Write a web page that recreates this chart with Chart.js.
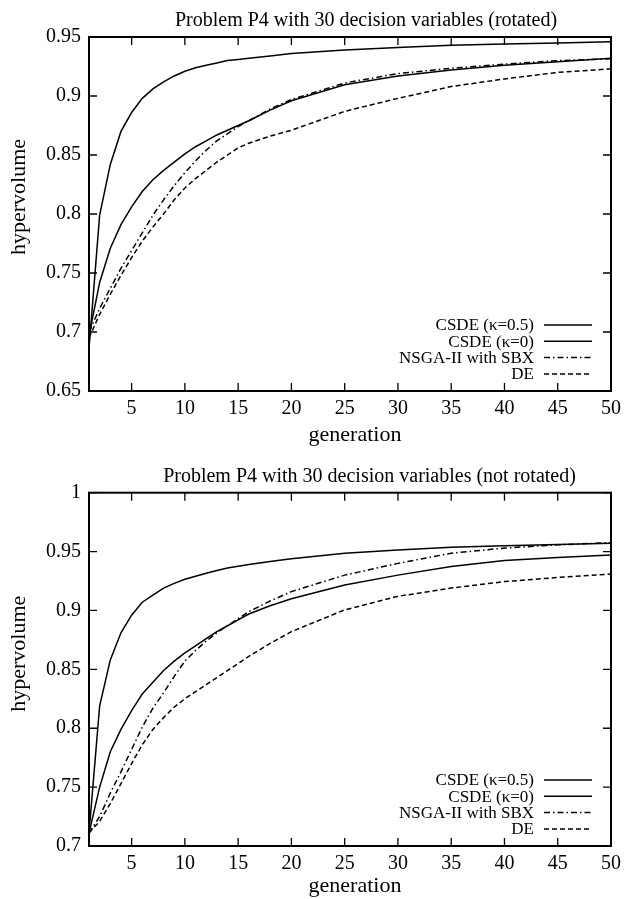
<!DOCTYPE html>
<html>
<head>
<meta charset="utf-8">
<script src="https://cdn.jsdelivr.net/npm/chart.js@4.4.0/dist/chart.umd.min.js"></script>
<style>
body { margin: 0; background: #fff; }
.caixa { position: absolute; left: 0; width: 627px; }
</style>
</head>
<body>
<div class="caixa" style="top:0;height:450px"><canvas id="graficoRotated" width="627" height="450"></canvas></div>
<div class="caixa" style="top:450px;height:449px"><canvas id="graficoNotRotated" width="627" height="449"></canvas></div>
<script>
// geracoes onde os valores foram lidos
var geracoes = [1, 2, 3, 4, 5, 6, 7, 8, 9, 10, 11, 12, 13, 14, 15, 16, 18, 20, 25, 30, 35, 40, 45, 50]
var ticksX = [5, 10, 15, 20, 25, 30, 35, 40, 45, 50]
var legendas = ['CSDE (κ=0.5)', 'CSDE (κ=0)', 'NSGA-II with SBX', 'DE']

// Problema P4 rotacionado
var ticksYRotated = [0.65, 0.7, 0.75, 0.8, 0.85, 0.9, 0.95]
var rotK05 = [0.686, 0.799, 0.842, 0.870, 0.886, 0.898, 0.906, 0.912, 0.917, 0.921, 0.924, 0.926, 0.928, 0.930, 0.931, 0.932, 0.934, 0.936, 0.939, 0.941, 0.943, 0.944, 0.945, 0.946]
var rotK0 = [0.697, 0.742, 0.771, 0.791, 0.806, 0.819, 0.829, 0.837, 0.844, 0.851, 0.857, 0.862, 0.867, 0.871, 0.875, 0.879, 0.888, 0.896, 0.9095, 0.917, 0.922, 0.926, 0.929, 0.932]
var rotNsga = [0.700, 0.720, 0.737, 0.754, 0.769, 0.784, 0.799, 0.812, 0.824, 0.835, 0.845, 0.854, 0.862, 0.868, 0.874, 0.879, 0.889, 0.897, 0.911, 0.919, 0.9235, 0.927, 0.930, 0.9315]
var rotDE = [0.695, 0.715, 0.732, 0.748, 0.763, 0.777, 0.789, 0.800, 0.812, 0.822, 0.830, 0.837, 0.844, 0.850, 0.856, 0.860, 0.866, 0.871, 0.887, 0.898, 0.908, 0.9145, 0.920, 0.923]

// Problema P4 nao rotacionado
var ticksYNotRotated = [0.7, 0.75, 0.8, 0.85, 0.9, 0.95, 1]
var naoK05 = [0.711, 0.819, 0.858, 0.881, 0.896, 0.907, 0.913, 0.919, 0.923, 0.9265, 0.929, 0.9316, 0.934, 0.936, 0.9375, 0.939, 0.9415, 0.944, 0.9486, 0.9514, 0.9537, 0.955, 0.956, 0.957]
var naoK0 = [0.711, 0.750, 0.780, 0.799, 0.815, 0.829, 0.839, 0.849, 0.857, 0.864, 0.870, 0.876, 0.882, 0.887, 0.892, 0.897, 0.904, 0.910, 0.9217, 0.930, 0.9373, 0.9424, 0.945, 0.947]
var naoNsga = [0.711, 0.725, 0.745, 0.763, 0.782, 0.801, 0.817, 0.830, 0.844, 0.857, 0.866, 0.874, 0.881, 0.887, 0.893, 0.899, 0.908, 0.916, 0.930, 0.940, 0.9486, 0.953, 0.9557, 0.9576]
var naoDE = [0.711, 0.721, 0.736, 0.753, 0.770, 0.786, 0.799, 0.809, 0.818, 0.825, 0.831, 0.837, 0.843, 0.849, 0.855, 0.861, 0.872, 0.882, 0.9005, 0.912, 0.919, 0.9245, 0.928, 0.931]

var fonte = '"Liberation Serif", "Times New Roman", serif'

// moldura estilo gnuplot: caixa, ticks para dentro, titulos e legenda
var moldura = {
    id: 'moldura',
    afterDatasetsDraw: function (chart, args, opts) {
        var ctx = chart.ctx
        var a = chart.chartArea
        var sx = chart.scales.x
        var sy = chart.scales.y
        ctx.save()
        ctx.strokeStyle = '#000'
        ctx.fillStyle = '#000'
        ctx.lineWidth = 1.3
        ctx.beginPath()
        sx.ticks.forEach(function (t) {
            var px = sx.getPixelForValue(t.value)
            ctx.moveTo(px, a.bottom); ctx.lineTo(px, a.bottom - 8)
            ctx.moveTo(px, a.top); ctx.lineTo(px, a.top + 8)
        })
        sy.ticks.forEach(function (t) {
            var py = sy.getPixelForValue(t.value)
            ctx.moveTo(a.left, py); ctx.lineTo(a.left + 8, py)
            ctx.moveTo(a.right, py); ctx.lineTo(a.right - 8, py)
        })
        ctx.stroke()
        ctx.lineWidth = 2
        ctx.strokeRect(a.left, a.top, a.right - a.left, a.bottom - a.top)

        ctx.textAlign = 'center'
        ctx.textBaseline = 'alphabetic'
        ctx.font = '20px ' + fonte
        ctx.fillText(opts.titulo, opts.tituloX, opts.tituloY)
        ctx.font = '22px ' + fonte
        ctx.fillText('generation', opts.xTituloX, opts.xTituloY)
        ctx.save()
        ctx.translate(opts.yTituloX, opts.yTituloY)
        ctx.rotate(-Math.PI / 2)
        ctx.fillText('hypervolume', 0, 0)
        ctx.restore()

        // legenda
        ctx.font = '17px ' + fonte
        ctx.textAlign = 'right'
        ctx.textBaseline = 'middle'
        chart.data.datasets.forEach(function (ds, i) {
            var y = a.bottom - 66 + i * 16.3
            ctx.fillText(ds.label, a.right - 77, y + 1)
            ctx.beginPath()
            ctx.lineWidth = ds.borderWidth
            ctx.setLineDash(ds.borderDash || [])
            ctx.moveTo(a.right - 67, y)
            ctx.lineTo(a.right - 19, y)
            ctx.stroke()
            ctx.setLineDash([])
        })
        ctx.restore()
    }
}

function serie(label, valores, tracejado) {
    return {
        label: label,
        data: geracoes.map(function (g, i) { return { x: g, y: valores[i] } }),
        borderColor: '#000',
        borderWidth: 1.5,
        borderDash: tracejado,
        pointRadius: 0,
        tension: 0,
        fill: false
    }
}

function criarGrafico(id, series, ticksY, alturaX, topo, textos) {
    return new Chart(document.getElementById(id), {
        type: 'line',
        data: {
            datasets: [
                serie(legendas[0], series[0], []),
                serie(legendas[1], series[1], []),
                serie(legendas[2], series[2], [6, 3, 1.5, 3]),
                serie(legendas[3], series[3], [5, 3])
            ]
        },
        plugins: [moldura],
        options: {
            responsive: false,
            animation: false,
            layout: { padding: { top: topo, right: 14.5, left: 0, bottom: 0 } },
            plugins: {
                legend: { display: false },
                tooltip: { enabled: false },
                moldura: textos
            },
            scales: {
                x: {
                    type: 'linear',
                    min: 1,
                    max: 50,
                    grid: { display: false, drawTicks: false },
                    border: { display: false },
                    afterBuildTicks: function (scale) {
                        scale.ticks = ticksX.map(function (v) { return { value: v } })
                    },
                    afterFit: function (scale) { scale.height = alturaX },
                    ticks: {
                        autoSkip: false,
                        maxRotation: 0,
                        padding: 6,
                        color: '#000',
                        font: { family: fonte, size: 20 }
                    }
                },
                y: {
                    min: ticksY[0],
                    max: ticksY[ticksY.length - 1],
                    grid: { display: false, drawTicks: false },
                    border: { display: false },
                    afterBuildTicks: function (scale) {
                        scale.ticks = ticksY.map(function (v) { return { value: v } })
                    },
                    afterFit: function (scale) { scale.width = 89 },
                    ticks: {
                        padding: 8,
                        color: '#000',
                        font: { family: fonte, size: 20 },
                        callback: function (v) { return String(v) }
                    }
                }
            }
        }
    })
}

var graficoRotated = criarGrafico('graficoRotated', [rotK05, rotK0, rotNsga, rotDE], ticksYRotated, 59, 37, {
    titulo: 'Problem P4 with 30 decision variables (rotated)',
    tituloX: 366, tituloY: 26,
    xTituloX: 355, xTituloY: 441,
    yTituloX: 25, yTituloY: 197
})

var graficoNotRotated = criarGrafico('graficoNotRotated', [naoK05, naoK0, naoNsga, naoDE], ticksYNotRotated, 53, 42.7, {
    titulo: 'Problem P4 with 30 decision variables (not rotated)',
    tituloX: 369.5, tituloY: 31.7,
    xTituloX: 355, xTituloY: 441.5,
    yTituloX: 25, yTituloY: 203.7
})
</script>
</body>
</html>
